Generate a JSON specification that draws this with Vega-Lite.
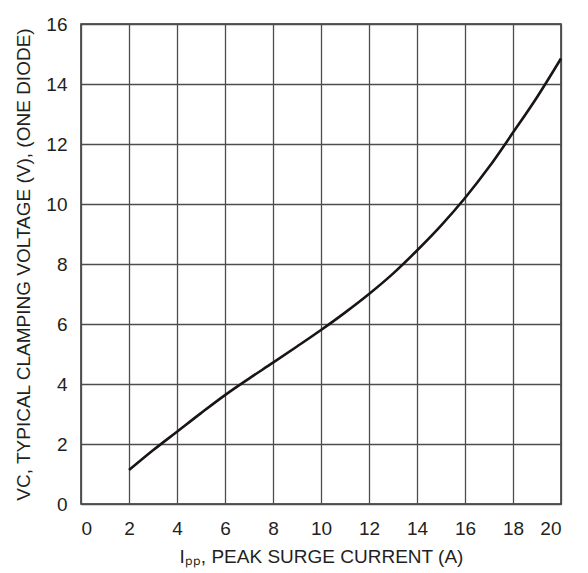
{
  "$schema": "https://vega.github.io/schema/vega-lite/v6.json",
  "width": 480,
  "height": 480,
  "autosize": {"type": "none"},
  "padding": {"left": 81, "top": 24, "right": 27, "bottom": 69},
  "background": "white",
  "config": {
    "font": "Liberation Sans",
    "view": {"stroke": "#2a2a2a", "strokeWidth": 1.5},
    "axis": {
      "labelFont": "Liberation Sans",
      "titleFont": "Liberation Sans",
      "labelFontSize": 19,
      "titleFontSize": 19,
      "labelColor": "#231f20",
      "titleColor": "#231f20",
      "titleFontWeight": "normal",
      "ticks": false,
      "domain": false,
      "grid": true,
      "gridColor": "#4d4d4d",
      "gridWidth": 1.3,
      "gridOpacity": 1
    }
  },
  "data": {
    "values": [
      {"i": 2, "v": 1.13},
      {"i": 3, "v": 1.79},
      {"i": 4, "v": 2.41},
      {"i": 5, "v": 3.03},
      {"i": 6, "v": 3.63},
      {"i": 7, "v": 4.18},
      {"i": 8, "v": 4.71},
      {"i": 9, "v": 5.25},
      {"i": 10, "v": 5.8},
      {"i": 11, "v": 6.38},
      {"i": 12, "v": 7.0},
      {"i": 13, "v": 7.68},
      {"i": 14, "v": 8.45},
      {"i": 15, "v": 9.28},
      {"i": 16, "v": 10.2},
      {"i": 17, "v": 11.23},
      {"i": 18, "v": 12.38},
      {"i": 19, "v": 13.56},
      {"i": 20, "v": 14.85}
    ]
  },
  "mark": {"type": "line", "color": "#1a1414", "strokeWidth": 2.6, "interpolate": "monotone"},
  "encoding": {
    "x": {
      "field": "i",
      "type": "quantitative",
      "scale": {"domain": [0, 20], "nice": false},
      "axis": {
        "values": [0, 2, 4, 6, 8, 10, 12, 14, 16, 18, 20],
        "labelPadding": 15,
        "title": "Iₚₚ, PEAK SURGE CURRENT (A)",
        "titlePadding": 9
      }
    },
    "y": {
      "field": "v",
      "type": "quantitative",
      "scale": {"domain": [0, 16], "nice": false},
      "axis": {
        "values": [0, 2, 4, 6, 8, 10, 12, 14, 16],
        "labelPadding": 14,
        "title": "VC, TYPICAL CLAMPING VOLTAGE (V), (ONE DIODE)",
        "titlePadding": 12
      }
    }
  }
}
